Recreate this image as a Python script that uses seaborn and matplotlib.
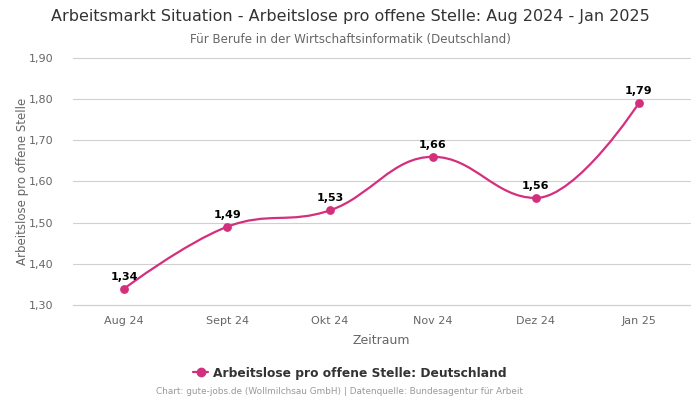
import numpy as np
import pandas as pd
import seaborn as sns
import matplotlib
matplotlib.use("Agg")
import matplotlib.pyplot as plt
from matplotlib.path import Path
from matplotlib.patches import PathPatch
from matplotlib.lines import Line2D

months = ["Aug 24", "Sept 24", "Okt 24", "Nov 24", "Dez 24", "Jan 25"]
values = [1.34, 1.49, 1.53, 1.66, 1.56, 1.79]
series_name = "Arbeitslose pro offene Stelle: Deutschland"
yticks = [1.30, 1.40, 1.50, 1.60, 1.70, 1.80, 1.90]

color = "#d42f7d"

sns.set_theme(style="white")
plt.rcParams['font.family'] = ['DejaVu Sans']

df = pd.DataFrame({"Monat": months, "Wert": values})
df["pos"] = np.arange(len(df))

fig = plt.figure(figsize=(7, 4), dpi=100)
ax = fig.add_axes([0.104, 0.2375, 0.882, 0.6175])

# Highcharts-like spline path
def spline_path(xs, ys, smoothing=1.5):
    n = len(xs)
    denom = smoothing + 1
    lc = [(xs[i], ys[i]) for i in range(n)]
    rc = [(xs[i], ys[i]) for i in range(n)]
    for i in range(1, n - 1):
        px, py = xs[i], ys[i]
        lx, ly = xs[i - 1], ys[i - 1]
        nx, ny = xs[i + 1], ys[i + 1]
        lcx = (smoothing * px + lx) / denom
        lcy = (smoothing * py + ly) / denom
        rcx = (smoothing * px + nx) / denom
        rcy = (smoothing * py + ny) / denom
        corr = (rcy - lcy) * (rcx - px) / (rcx - lcx) + py - rcy
        lcy += corr
        rcy += corr
        if lcy > ly and lcy > py:
            lcy = max(ly, py); rcy = 2 * py - lcy
        elif lcy < ly and lcy < py:
            lcy = min(ly, py); rcy = 2 * py - lcy
        if rcy > ny and rcy > py:
            rcy = max(ny, py); lcy = 2 * py - rcy
        elif rcy < ny and rcy < py:
            rcy = min(ny, py); lcy = 2 * py - rcy
        lc[i] = (lcx, lcy)
        rc[i] = (rcx, rcy)
    verts = [(xs[0], ys[0])]
    codes = [Path.MOVETO]
    for i in range(1, n):
        verts += [rc[i - 1], lc[i], (xs[i], ys[i])]
        codes += [Path.CURVE4] * 3
    return Path(verts, codes)

path = spline_path(list(df["pos"].astype(float)), list(df["Wert"]))
ax.add_patch(PathPatch(path, facecolor="none", edgecolor=color, lw=1.6, zorder=3))

sns.scatterplot(data=df, x="pos", y="Wert", color=color, s=40, edgecolor=color,
                linewidth=0, zorder=4, ax=ax, legend=False)

for x, v in zip(df["pos"], df["Wert"]):
    ax.annotate(f"{v:.2f}".replace(".", ","), (x, v), xytext=(0, 5),
                textcoords="offset points", ha="center", va="bottom",
                fontsize=8, fontweight="bold", color="black", zorder=5)

ax.set_xlim(-0.5, len(months) - 0.5)
ax.set_ylim(1.30, 1.90)
ax.set_yticks(yticks)
ax.set_yticklabels([f"{t:.2f}".replace(".", ",") for t in yticks])
ax.set_xticks(df["pos"])
ax.set_xticklabels(months)
ax.tick_params(axis="both", labelsize=8, colors="#666666", length=0)
ax.tick_params(axis="y", pad=14)
ax.tick_params(axis="x", pad=8)
ax.grid(axis="y", color="#d0d0d0", lw=0.8)
ax.grid(axis="x", visible=False)
for line in ax.get_ygridlines():
    line.set_clip_on(False)
for s in ax.spines.values():
    s.set_visible(False)
ax.spines["bottom"].set_visible(True)
ax.spines["bottom"].set_color("#d0d0d0")
ax.spines["bottom"].set_linewidth(0.8)
ax.set_axisbelow(True)

ax.set_xlabel("Zeitraum", fontsize=9, color="#666666", labelpad=6)
ax.set_ylabel("Arbeitslose pro offene Stelle", fontsize=8.5, color="#666666", labelpad=0)

fig.text(0.5, 1 - 17 / 400, "Arbeitsmarkt Situation - Arbeitslose pro offene Stelle: Aug 2024 - Jan 2025",
         ha="center", va="center", fontsize=11.5, color="#333333")
fig.text(0.5, 1 - 39 / 400, "Für Berufe in der Wirtschaftsinformatik (Deutschland)",
         ha="center", va="center", fontsize=8.6, color="#666666")

handle = Line2D([0], [0], color=color, lw=1.6, marker="o", markersize=6)
fig.legend([handle], [series_name], loc="center", bbox_to_anchor=(0.5, 1 - 373 / 400),
           frameon=False, prop={"weight": "bold", "size": 8.8}, labelcolor="#333333",
           handlelength=1.2, handletextpad=0.4)

fig.text(340 / 700, 1 - 392 / 400,
         "Chart: gute-jobs.de (Wollmilchsau GmbH) | Datenquelle: Bundesagentur für Arbeit",
         ha="center", va="center", fontsize=6.4, color="#999999")

fig.savefig("out.png", dpi=100)
